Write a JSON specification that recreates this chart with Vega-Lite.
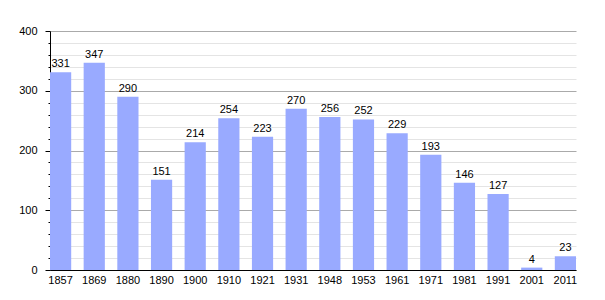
{
  "$schema": "https://vega.github.io/schema/vega-lite/v6.json",
  "width": 526,
  "height": 239,
  "autosize": "none",
  "padding": {"left": 50, "top": 31, "right": 29, "bottom": 30},
  "background": "white",
  "data": {"values": [
    {"year": "1857", "pop": 331},
    {"year": "1869", "pop": 347},
    {"year": "1880", "pop": 290},
    {"year": "1890", "pop": 151},
    {"year": "1900", "pop": 214},
    {"year": "1910", "pop": 254},
    {"year": "1921", "pop": 223},
    {"year": "1931", "pop": 270},
    {"year": "1948", "pop": 256},
    {"year": "1953", "pop": 252},
    {"year": "1961", "pop": 229},
    {"year": "1971", "pop": 193},
    {"year": "1981", "pop": 146},
    {"year": "1991", "pop": 127},
    {"year": "2001", "pop": 4},
    {"year": "2011", "pop": 23}
  ]},
  "config": {
    "view": {"stroke": null},
    "axis": {"labelFont": "Liberation Sans", "labelFontSize": 11, "labelColor": "#000", "title": null}
  },
  "encoding": {
    "x": {
      "field": "year", "type": "ordinal",
      "scale": {"paddingInner": 0.37, "paddingOuter": 0},
      "axis": {"labelAngle": 0, "ticks": false, "domainColor": "#000", "labelPadding": 4, "grid": false}
    },
    "y": {
      "field": "pop", "type": "quantitative",
      "scale": {"domain": [0, 400], "nice": false},
      "axis": {
        "values": [0, 20, 40, 60, 80, 100, 120, 140, 160, 180, 200, 220, 240, 260, 280, 300, 320, 340, 360, 380, 400],
        "labelExpr": "datum.value % 100 === 0 ? datum.label : ''",
        "grid": true,
        "gridColor": {"condition": {"test": "datum.value % 100 === 0", "value": "#aaaaaa"}, "value": "#e4e4e4"},
        "tickSize": {"condition": {"test": "datum.value % 100 === 0", "value": 5}, "value": 2},
        "tickColor": "#000",
        "domainColor": "#000",
        "labelPadding": 8
      }
    }
  },
  "layer": [
    {"mark": {"type": "bar", "color": "#99aaff"}},
    {"mark": {"type": "text", "baseline": "bottom", "dy": -3, "font": "Liberation Sans", "fontSize": 11, "color": "#000"},
     "encoding": {"text": {"field": "pop", "type": "quantitative"}}}
  ]
}
